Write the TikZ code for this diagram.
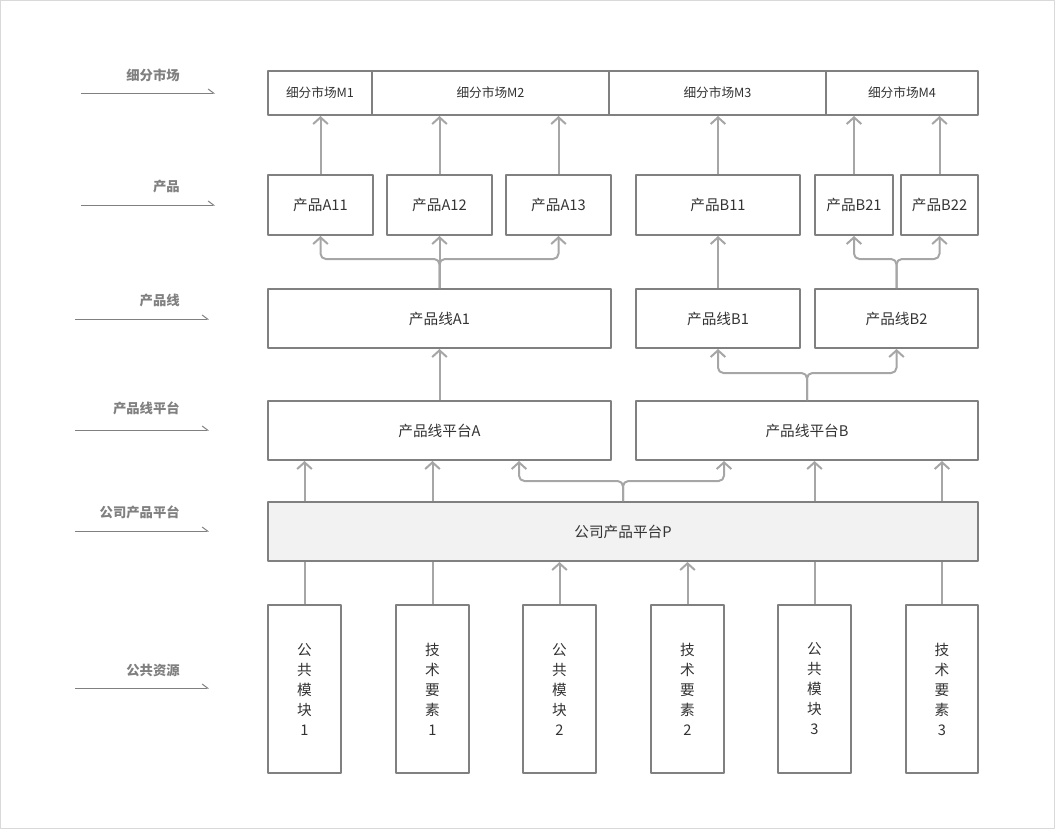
\documentclass[tikz,border=0pt]{standalone}
\usepackage{fontspec}
\setmainfont{Noto Sans CJK SC}
\usepackage{xcolor}
\usepackage{tikz}
\usetikzlibrary{calc,arrows.meta}
\definecolor{frame}{HTML}{D9D9D9}
\definecolor{edge}{HTML}{808080}
\definecolor{link}{HTML}{A6A6A6}
\definecolor{ink}{HTML}{333333}
\definecolor{base}{HTML}{F2F2F2}
\tikzset{
  LayerBox/.style={
    draw=edge, line width=1.5pt, text=ink, inner sep=0pt,
    font=\fontsize{11}{13}\selectfont
  },
  MarketBox/.style={LayerBox, font=\fontsize{9.5}{11}\selectfont},
  ResBox/.style={LayerBox, align=center, font=\fontsize{11}{15}\selectfont},
  LayerTag/.style={text=edge, anchor=east, inner sep=0pt, font=\bfseries\fontsize{10}{12}\selectfont},
  TagLine/.style={draw=edge, line width=0.75pt, -{Straight Barb[left,length=4pt,width=6pt]}},
  Flow/.style={draw=link, line width=1.5pt, rounded corners=4pt,
    -{Straight Barb[length=5pt,width=11pt]}},
  Feed/.style={draw=link, line width=1.5pt}
}
\newcommand{\PlaceBox}[7][]{%
  % #1 = style, #2 = name, #3/#4 = left/top, #5/#6 = right/bottom (px), #7 = text
  \node[#1, minimum width={(#5-#3)*0.75pt}, minimum height={(#6-#4)*0.75pt}]
    (#2) at ({(#3+#5)/2},{(#4+#6)/2}) {#7};%
}

\begin{document}
\begin{tikzpicture}[x=0.75pt, y=-0.75pt, line join=round]
  \useasboundingbox (0,0) rectangle (1055,829);
  \draw[frame, line width=0.75pt] (0.5,0.5) rectangle (1054.5,828.5);

  % layer tags on the left
  \node[LayerTag] (tMkt) at (180,75) {细分市场};
  \node[LayerTag] (tPrd) at (180,186) {产品};
  \node[LayerTag] (tLine) at (180,300) {产品线};
  \node[LayerTag] (tPlat) at (180,408) {产品线平台};
  \node[LayerTag] (tCorp) at (180,512) {公司产品平台};
  \node[LayerTag] (tRes) at (180,670) {公共资源};
  \draw[TagLine] (81,93) -- (215,93);
  \draw[TagLine] (81,205) -- (215,205);
  \draw[TagLine] (75,319) -- (209,319);
  \draw[TagLine] (75,430) -- (209,430);
  \draw[TagLine] (75,531) -- (209,531);
  \draw[TagLine] (75,688) -- (209,688);

  % market segments
  \PlaceBox[MarketBox]{M1}{268}{71}{372}{115}{细分市场M1}
  \PlaceBox[MarketBox]{M2}{372}{71}{609}{115}{细分市场M2}
  \PlaceBox[MarketBox]{M3}{609}{71}{826}{115}{细分市场M3}
  \PlaceBox[MarketBox]{M4}{826}{71}{978}{115}{细分市场M4}

  % products
  \PlaceBox[LayerBox]{A11}{268}{175}{373}{235}{产品A11}
  \PlaceBox[LayerBox]{A12}{387}{175}{492}{235}{产品A12}
  \PlaceBox[LayerBox]{A13}{506}{175}{611}{235}{产品A13}
  \PlaceBox[LayerBox]{B11}{636}{175}{800}{235}{产品B11}
  \PlaceBox[LayerBox]{B21}{815}{175}{893}{235}{产品B21}
  \PlaceBox[LayerBox]{B22}{901}{175}{978}{235}{产品B22}

  % product lines
  \PlaceBox[LayerBox]{A1}{268}{289}{611}{348}{产品线A1}
  \PlaceBox[LayerBox]{B1}{636}{289}{800}{348}{产品线B1}
  \PlaceBox[LayerBox]{B2}{815}{289}{978}{348}{产品线B2}

  % product line platforms
  \PlaceBox[LayerBox]{PA}{268}{401}{611}{460}{产品线平台A}
  \PlaceBox[LayerBox]{PB}{636}{401}{978}{460}{产品线平台B}

  % company platform
  \PlaceBox[LayerBox,fill=base]{P}{268}{502}{978}{561}{公司产品平台P}

  % common resources
  \PlaceBox[ResBox]{R1}{268}{605}{341}{773}{公\\共\\模\\块\\1}
  \PlaceBox[ResBox]{R2}{396}{605}{469}{773}{技\\术\\要\\素\\1}
  \PlaceBox[ResBox]{R3}{523}{605}{596}{773}{公\\共\\模\\块\\2}
  \PlaceBox[ResBox]{R4}{651}{605}{724}{773}{技\\术\\要\\素\\2}
  \PlaceBox[ResBox]{R5}{778}{605}{851}{773}{公\\共\\模\\块\\3}
  \PlaceBox[ResBox]{R6}{906}{605}{978}{773}{技\\术\\要\\素\\3}

  % products -> markets
  \draw[Flow] (A11.north) -- (A11.north |- M1.south);
  \draw[Flow] (A12.north) -- (A12.north |- M2.south);
  \draw[Flow] (A13.north) -- (A13.north |- M2.south);
  \draw[Flow] (B11.north) -- (B11.north |- M3.south);
  \draw[Flow] (B21.north) -- (B21.north |- M4.south);
  \draw[Flow] (B22.north) -- (B22.north |- M4.south);

  % product lines -> products
  \path (A1.north) ++(0,-29) coordinate (jA1);
  \path (B2.north) ++(0,-29) coordinate (jB2);
  \draw[Flow] (A1.north) -- (jA1) -| (A11.south);
  \draw[Flow] (A1.north) -- (A12.south);
  \draw[Flow] (A1.north) -- (jA1) -| (A13.south);
  \draw[Flow] (B1.north) -- (B11.south);
  \draw[Flow] (B2.north) -- (jB2) -| (B21.south);
  \draw[Flow] (B2.north) -- (jB2) -| (B22.south);

  % platforms -> product lines
  \path (PB.north) ++(0,-27) coordinate (jPB);
  \draw[Flow] (PA.north) -- (A1.south);
  \draw[Flow] (PB.north) -- (jPB) -| (B1.south);
  \draw[Flow] (PB.north) -- (jPB) -| (B2.south);

  % company platform -> platforms
  \path (P.north) ++(0,-20) coordinate (jP);
  \draw[Flow] (P.north) -- (jP) -| ($(PA.south)+(79.5,0)$);
  \draw[Flow] (P.north) -- (jP) -| ($(PB.south)+(-83,0)$);

  % resources -> company platform / platforms
  \draw[Feed] (R1.north) -- (R1.north |- P.south);
  \draw[Flow] (R1.north |- P.north) -- (R1.north |- PA.south);
  \draw[Feed] (R2.north) -- (R2.north |- P.south);
  \draw[Flow] (R2.north |- P.north) -- (R2.north |- PA.south);
  \draw[Flow] (R3.north) -- (R3.north |- P.south);
  \draw[Flow] (R4.north) -- (R4.north |- P.south);
  \draw[Feed] (R5.north) -- (R5.north |- P.south);
  \draw[Flow] (R5.north |- P.north) -- (R5.north |- PB.south);
  \draw[Feed] (R6.north) -- (R6.north |- P.south);
  \draw[Flow] (R6.north |- P.north) -- (R6.north |- PB.south);
\end{tikzpicture}
\end{document}
